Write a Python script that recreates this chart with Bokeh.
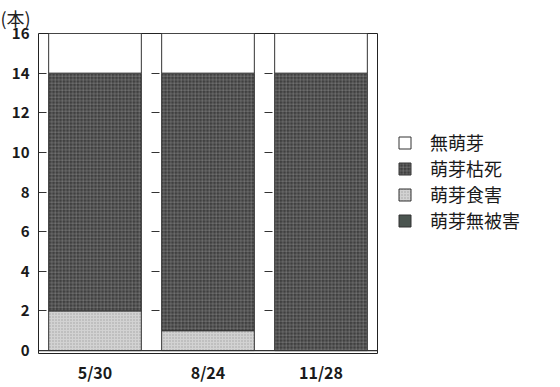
from bokeh.plotting import figure
from bokeh.models import Legend, LegendItem, Span, FixedTicker, Range1d
from bokeh.embed import file_html
from bokeh.resources import INLINE

dates = ["5/30", "8/24", "11/28"]
no_damage = [0, 0, 0]      # 萌芽無被害
browsed = [2, 1, 0]        # 萌芽食害
withered = [12, 13, 14]    # 萌芽枯死
no_sprout = [2, 2, 2]      # 無萌芽
y_ticks = [0, 2, 4, 6, 8, 10, 12, 14, 16]

series = ["萌芽無被害", "萌芽食害", "萌芽枯死", "無萌芽"]
data = {"date": dates, "萌芽無被害": no_damage, "萌芽食害": browsed,
        "萌芽枯死": withered, "無萌芽": no_sprout}

FONT = "Noto Sans CJK JP"

p = figure(x_range=dates, width=560, height=387, output_backend="svg",
           toolbar_location=None, frame_width=339, frame_height=320,
           min_border_left=38, min_border_right=0,
           min_border_top=32, min_border_bottom=35,
           title="(本)")
p.y_range = Range1d(-0.15, 16)

p.title.text_font = FONT
p.title.text_font_size = "18px"
p.title.text_font_style = "normal"
p.title.text_color = "#222222"
p.title.align = "left"
p.title.offset = -38
p.title.standoff = 5

renderers = p.vbar_stack(
    series, x="date", width=0.82, source=data,
    fill_color=["#4b5550", "#d2d2d2", "#404040", "#ffffff"],
    hatch_pattern=[" ", ".", "+", " "],
    hatch_color=["#4b5550", "#8f8f8f", "#a8a8a8", "#ffffff"],
    hatch_scale=[4, 3, 3.5, 4],
    hatch_weight=[0.5, 0.8, 0.6, 0.5],
    hatch_alpha=[0, 0.7, 0.6, 0],
    line_color="#333333", line_width=1,
)

p.add_layout(Span(location=0, dimension="width", line_color="#333333", line_width=1.2))

p.outline_line_color = "#222222"
p.outline_line_width = 1
p.xgrid.grid_line_color = None
p.ygrid.ticker = FixedTicker(ticks=y_ticks)
p.ygrid.grid_line_color = "#333333"
p.ygrid.grid_line_dash = "8 105"
p.ygrid.grid_line_width = 1
p.ygrid.level = "underlay"

p.yaxis.ticker = FixedTicker(ticks=y_ticks)
for ax in (p.xaxis, p.yaxis):
    ax.axis_line_color = None
    ax.major_tick_line_color = None
    ax.minor_tick_line_color = None
    ax.major_tick_out = 0
    ax.major_tick_in = 0
    ax.major_label_text_font = FONT
    ax.major_label_text_color = "#1a1a1a"
    ax.major_label_text_font_style = "bold"
p.yaxis.major_label_text_font_size = "15px"
p.yaxis.major_label_standoff = 9
p.xaxis.major_label_text_font_size = "16px"
p.xaxis.major_label_standoff = 6

items = [LegendItem(label=s, renderers=[r]) for s, r in zip(series, renderers)]
items.reverse()
legend = Legend(items=items, location=(20, 120), glyph_width=15, glyph_height=15,
                label_text_font=FONT, label_text_font_size="18px",
                label_text_color="#1a1a1a", label_standoff=18, spacing=0,
                label_height=26, padding=0, margin=0, border_line_color=None,
                background_fill_alpha=0)
p.add_layout(legend, "right")

open("out.html", "w").write(file_html(p, INLINE))
